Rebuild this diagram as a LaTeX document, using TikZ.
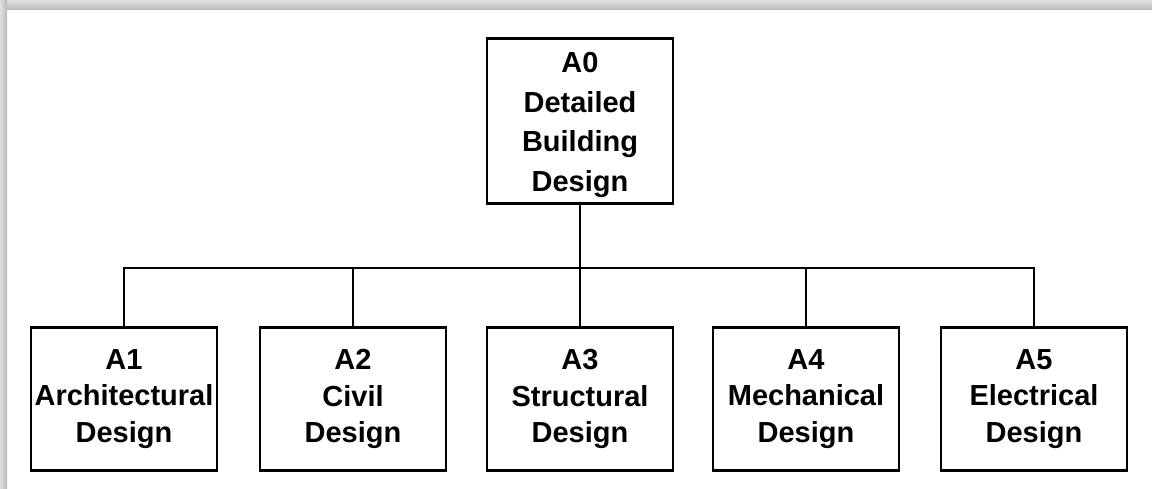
\documentclass[tikz,border=0pt]{standalone}
\usepackage{fontspec}
\setmainfont{Liberation Sans}
\begin{document}
\begin{tikzpicture}[x=0.02cm,y=-0.02cm,
  blk/.style={draw, line width=1.6pt, minimum width=3.72cm, minimum height=2.86cm,
    inner sep=0pt, align=center, font=\fontsize{16.5}{21}\selectfont\bfseries},
  topblk/.style={blk, minimum height=3.3cm, font=\fontsize{16.5}{22.5}\selectfont\bfseries}]
\useasboundingbox (0,0) rectangle (1152,489);
% frame of the scan
\shade[top color=gray!25, bottom color=gray!55] (0,0) rectangle (1152,10);
\shade[left color=gray!25, right color=gray!55] (0,0) rectangle (7,489);
\node[topblk] (a0) at (580,121) {};
\node[align=center, inner sep=0pt, font=\fontsize{16.5}{22.5}\selectfont\bfseries] (a0txt) at (580,125)
  {A0\\Detailed\\Building\\Design};
\foreach \name/\xpos/\txt in {a1/124/{A1\\Architectural\\Design}, a2/353/{A2\\Civil\\Design},
  a3/580/{A3\\Structural\\Design}, a4/806/{A4\\Mechanical\\Design}, a5/1034/{A5\\Electrical\\Design}}
\node[blk] (\name) at (\xpos,399) {\txt};
\coordinate (bus) at (580,268);
\draw[line width=1.1pt] (a0.south) -- (bus);
\draw[line width=1.1pt] (a1.north) |- (bus) -| (a5.north);
\foreach \name in {a2,a3,a4}
\draw[line width=1.1pt] (\name.north) -- (\name.north |- bus);
\end{tikzpicture}
\end{document}
